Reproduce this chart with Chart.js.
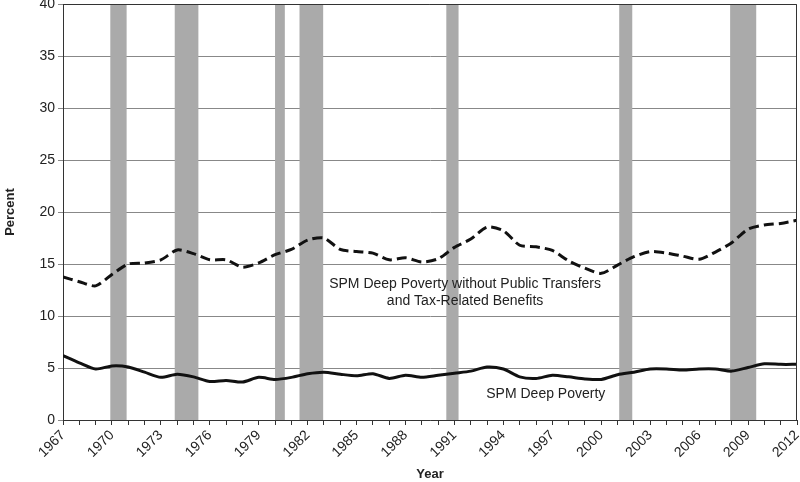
<!DOCTYPE html>
<html>
<head>
<meta charset="utf-8">
<script src="https://cdn.jsdelivr.net/npm/chart.js@4"></script>
<style>
  html, body { margin: 0; padding: 0; background: #fff; }
  #wrap { width: 800px; height: 482px; }
</style>
</head>
<body>
<div id="wrap"><canvas id="myChart" width="800" height="482"></canvas></div>
<script>
// Años y series
var years = [1967, 1968, 1969, 1970, 1971, 1972, 1973, 1974, 1975, 1976,
             1977, 1978, 1979, 1980, 1981, 1982, 1983, 1984, 1985, 1986,
             1987, 1988, 1989, 1990, 1991, 1992, 1993, 1994, 1995, 1996,
             1997, 1998, 1999, 2000, 2001, 2002, 2003, 2004, 2005, 2006,
             2007, 2008, 2009, 2010, 2011, 2012];

var deepPoverty = [6.2, 5.5, 4.9, 5.2, 5.1, 4.6, 4.1, 4.4, 4.15, 3.7,
                   3.8, 3.65, 4.1, 3.9, 4.1, 4.45, 4.6, 4.4, 4.25, 4.45,
                   4.0, 4.3, 4.1, 4.3, 4.5, 4.7, 5.1, 4.9, 4.15, 4.0,
                   4.3, 4.15, 3.95, 3.9, 4.35, 4.6, 4.9, 4.9, 4.8, 4.9,
                   4.9, 4.7, 5.05, 5.4, 5.35, 5.35];

var deepPovertyNoTransfers = [13.75, 13.3, 12.9, 14.0, 15.0, 15.1, 15.4, 16.35, 16.0, 15.4,
                              15.4, 14.7, 15.1, 15.9, 16.4, 17.3, 17.5, 16.4, 16.2, 16.05,
                              15.4, 15.6, 15.2, 15.5, 16.6, 17.4, 18.55, 18.2, 16.8, 16.65,
                              16.3, 15.3, 14.6, 14.1, 14.9, 15.7, 16.2, 16.05, 15.75, 15.45,
                              16.15, 17.05, 18.35, 18.75, 18.9, 19.2];

// Recesiones (inicio y fin en años decimales)
var recessionStart = [1969.9, 1973.85, 1980.0, 1981.5, 1990.5, 2001.1, 2007.9];
var recessionEnd   = [1970.9, 1975.3, 1980.6, 1982.95, 1991.25, 2001.9, 2009.5];

var yTicks = [0, 5, 10, 15, 20, 25, 30, 35, 40];

function toPoints(vals) {
    var pts = [];
    for (var i = 0; i < years.length; i++) {
        pts.push({ x: years[i], y: vals[i] });
    }
    return pts;
}

var FONT = 'Arial, "Liberation Sans", sans-serif';

var recessionPlugin = {
    id: 'recessions',
    beforeDatasetsDraw: function(chart) {
        var ctx = chart.ctx;
        var xs = chart.scales.x;
        var area = chart.chartArea;
        ctx.save();
        ctx.fillStyle = '#aaaaaa';
        for (var i = 0; i < recessionStart.length; i++) {
            var x1 = xs.getPixelForValue(recessionStart[i]);
            var x2 = xs.getPixelForValue(recessionEnd[i]);
            ctx.fillRect(x1, area.top, x2 - x1, area.bottom - area.top);
        }
        ctx.restore();
    },
    afterDatasetsDraw: function(chart) {
        var ctx = chart.ctx;
        var xs = chart.scales.x;
        var ys = chart.scales.y;
        var area = chart.chartArea;
        ctx.save();
        // marco superior y derecho
        ctx.strokeStyle = '#333';
        ctx.lineWidth = 1;
        ctx.beginPath();
        ctx.moveTo(area.left, area.top + 0.5);
        ctx.lineTo(area.right - 0.5, area.top + 0.5);
        ctx.lineTo(area.right - 0.5, area.bottom);
        ctx.stroke();
        // etiquetas de las series
        ctx.fillStyle = '#222';
        ctx.font = '14px ' + FONT;
        ctx.textAlign = 'center';
        ctx.textBaseline = 'middle';
        var cx = xs.getPixelForValue(1991.65);
        ctx.fillText('SPM Deep Poverty without Public Transfers', cx, ys.getPixelForValue(13.1));
        ctx.fillText('and Tax-Related Benefits', cx, ys.getPixelForValue(11.45));
        ctx.fillText('SPM Deep Poverty', xs.getPixelForValue(1996.6), ys.getPixelForValue(2.45));
        ctx.restore();
    }
};

var ctx = document.getElementById('myChart').getContext('2d');
var myChart = new Chart(ctx, {
    type: 'line',
    data: {
        datasets: [{
            label: 'SPM Deep Poverty without Public Transfers and Tax-Related Benefits',
            data: toPoints(deepPovertyNoTransfers),
            borderColor: '#111',
            borderWidth: 3,
            borderDash: [10, 5],
            pointRadius: 0,
            tension: 0.25,
            fill: false
        }, {
            label: 'SPM Deep Poverty',
            data: toPoints(deepPoverty),
            borderColor: '#111',
            borderWidth: 3,
            pointRadius: 0,
            tension: 0.25,
            fill: false
        }]
    },
    plugins: [recessionPlugin],
    options: {
        responsive: false,
        animation: false,
        layout: {
            padding: { top: 4, right: 3, left: 0, bottom: 0 }
        },
        plugins: {
            legend: { display: false },
            tooltip: { enabled: false }
        },
        scales: {
            x: {
                type: 'linear',
                min: 1967,
                max: 2012,
                afterBuildTicks: function(axis) {
                    axis.ticks = years.map(function(y) { return { value: y }; });
                },
                afterFit: function(axis) {
                    axis.height = 62;
                    axis.paddingLeft = 0;
                    axis.paddingRight = 0;
                },
                ticks: {
                    autoSkip: false,
                    maxRotation: 45,
                    minRotation: 45,
                    color: '#222',
                    font: { family: FONT, size: 14 },
                    padding: 2,
                    callback: function(v) {
                        return (v - 1967) % 3 === 0 ? String(v) : '';
                    }
                },
                grid: {
                    drawOnChartArea: false,
                    tickLength: 5,
                    color: '#333'
                },
                border: { color: '#333', width: 1 },
                title: {
                    display: true,
                    text: 'Year',
                    color: '#222',
                    font: { family: FONT, size: 13, weight: 'bold' },
                    padding: { top: 2, bottom: 0 }
                }
            },
            y: {
                min: 0,
                max: 40,
                afterBuildTicks: function(axis) {
                    axis.ticks = yTicks.map(function(v) { return { value: v }; });
                },
                afterFit: function(axis) {
                    axis.width = 63;
                    axis.paddingTop = 0;
                    axis.paddingBottom = 0;
                },
                ticks: {
                    color: '#222',
                    font: { family: FONT, size: 14 },
                    padding: 3
                },
                grid: {
                    color: '#888',
                    tickLength: 5
                },
                border: { color: '#333', width: 1 },
                title: {
                    display: true,
                    text: 'Percent',
                    color: '#222',
                    font: { family: FONT, size: 13, weight: 'bold' },
                    padding: { top: 3, bottom: 8 }
                }
            }
        }
    }
});
</script>
</body>
</html>
